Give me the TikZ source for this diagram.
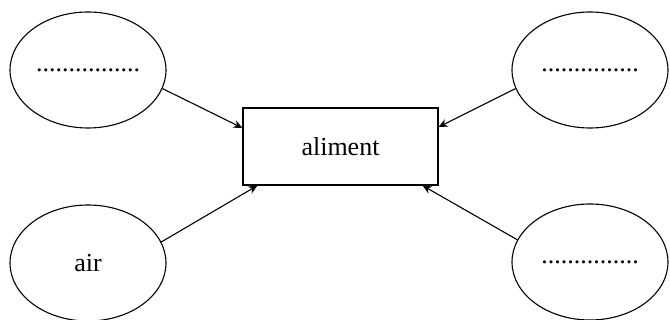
\documentclass[tikz,border=0pt]{standalone}
\usepackage{fontspec}
\setmainfont{Liberation Serif}
\usetikzlibrary{shapes.geometric,arrows.meta}
\begin{document}
\begin{tikzpicture}[x=1pt,y=-1pt,
  oval/.style={draw,ellipse,line width=1.1pt,minimum width=156pt,minimum height=116pt,inner sep=0pt,font=\fontsize{26}{30}\selectfont},
  box/.style={draw,rectangle,line width=1.1pt,minimum width=195pt,minimum height=77pt,inner sep=0pt,font=\fontsize{26}{30}\selectfont},
  conn/.style={line width=1.1pt,-{Stealth[length=9pt,width=8pt]}}]
\useasboundingbox (0,0) rectangle (670,320);
\node[box] (al) at (340.5,146.5) {aliment};
\node[oval] (tl) at (88,70) {................};
\node[oval] (bl) at (88,263) {air};
\node[oval] (tr) at (590,70) {...............};
\node[oval] (br) at (590,262) {...............};
\draw[conn] (tl.-14) -- ([yshift=18.5pt]al.west);
\draw[conn] (bl.16) -- ([xshift=15pt]al.south west);
\draw[conn] (tr.194) -- ([yshift=19.5pt]al.east);
\draw[conn] (br.163) -- ([xshift=-16pt]al.south east);
\end{tikzpicture}
\end{document}
